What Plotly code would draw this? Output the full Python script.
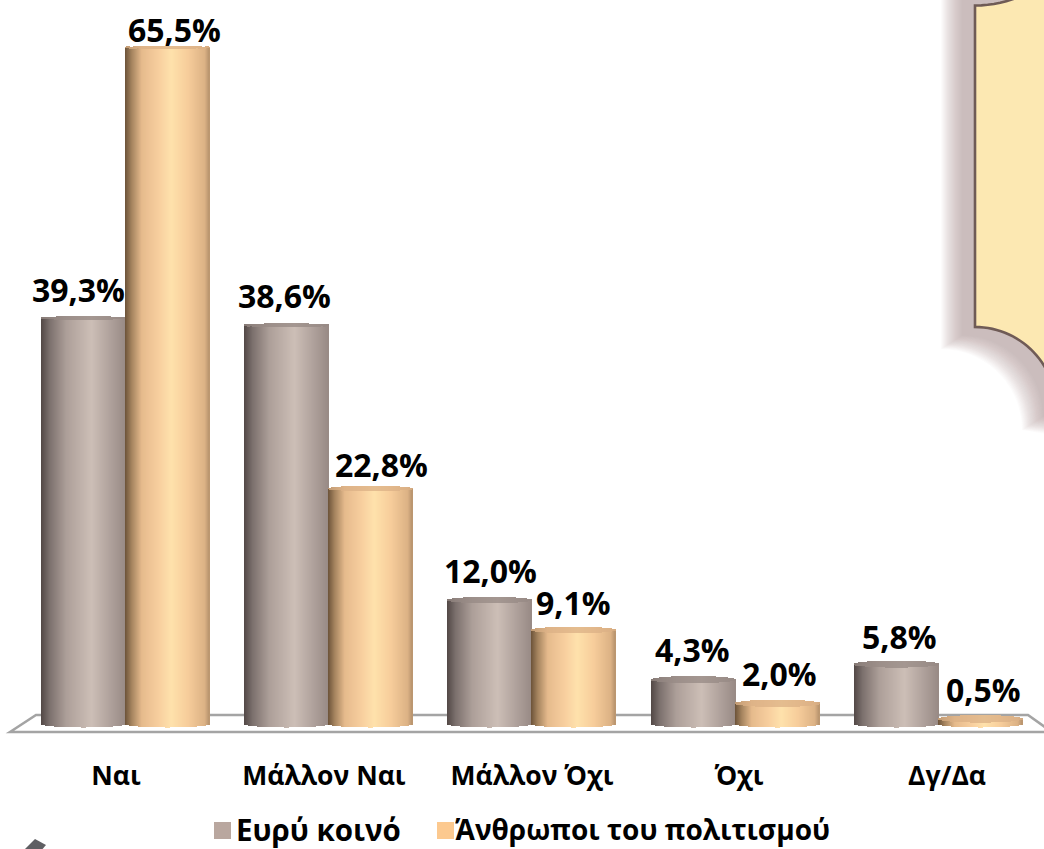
import numpy as np
import plotly.graph_objects as go

categories = ["Ναι", "Μάλλον Ναι", "Μάλλον Όχι", "Όχι", "Δγ/Δα"]
public_name = "Ευρύ κοινό"
culture_name = "Άνθρωποι του πολιτισμού"
public_values = [39.3, 38.6, 12.0, 4.3, 5.8]
culture_values = [65.5, 22.8, 9.1, 2.0, 0.5]

W, H = 1044, 849
PLOT_BOTTOM = 757
BASE_PX = 724
PX_PER_UNIT = 10.33
GROUP0_PX = 125.5
PITCH_PX = 203.25
BAR_PX = 84
TICK_PX = [116, 324, 532, 739, 947]

PUBLIC_COLOR = "#b9a79f"
CULTURE_COLOR = "#fcc98f"
PUBLIC_STOPS = [(0, "#524846"), (.1, "#7b706d"), (.3, "#ad9f99"), (.6, "#cdbfb7"), (.8, "#b3a59f"), (1, "#998b86")]
CULTURE_STOPS = [(0, "#6c5339"), (.08, "#a5845f"), (.2, "#e6bb8d"), (.4, "#f8cf9f"), (.55, "#ffe2ac"), (.75, "#f7cd9b"), (.95, "#dcb285"), (1, "#b8946e")]
PUBLIC_CAP = "#978a85"
CULTURE_CAP = "#dcb186"


def rgb(h):
    return np.array([int(h[i:i + 2], 16) for i in (1, 3, 5)], float)


def shade(stops, t):
    ts = [s[0] for s in stops]
    cs = np.array([rgb(s[1]) for s in stops])
    v = [np.interp(t, ts, cs[:, i]) for i in range(3)]
    return "rgb(%d,%d,%d)" % tuple(v)


def blend(c, hexcol, a):
    parts = [int(p) for p in c[4:-1].split(",")]
    out = (1 - a) * np.array(parts) + a * rgb(hexcol)
    return "rgb(%d,%d,%d)" % tuple(out)


px_to_x = lambda px: (px - GROUP0_PX) / PITCH_PX
unit = 1 / PX_PER_UNIT


def strips(values, side, stops, cap_hex, name):
    xs, base, height, colors, cbase, cheight, ccolors = [], [], [], [], [], [], []
    for g, v in enumerate(values):
        left = GROUP0_PX + g * PITCH_PX + (-BAR_PX if side == 0 else 0)
        for k in range(BAR_PX):
            t = (k + .5) / BAR_PX
            f = np.sqrt(max(0, 1 - (2 * t - 1) ** 2))
            e = max(1.5, 3.8 - v * 0.045) * unit * f
            bottom = -3.5 * unit * f
            xs.append(px_to_x(left + k + .5))
            base.append(bottom)
            height.append(v - e - bottom)
            col = shade(stops, t)
            colors.append(col)
            cbase.append(v - e)
            cheight.append(2 * e)
            ccolors.append(blend(shade(stops, t), cap_hex, .75))
    width = 1.5 / PITCH_PX
    common = dict(x=xs, width=width, showlegend=False, hoverinfo="skip", cliponaxis=False)
    return [
        go.Bar(y=height, base=base, marker=dict(color=colors, line_width=0), name=name, **common),
        go.Bar(y=cheight, base=cbase, marker=dict(color=ccolors, line_width=0), name=name + " top", **common),
    ]


fig = go.Figure()
for tr in strips(public_values, 0, PUBLIC_STOPS, PUBLIC_CAP, public_name):
    fig.add_trace(tr)
for tr in strips(culture_values, 1, CULTURE_STOPS, CULTURE_CAP, culture_name):
    fig.add_trace(tr)

# legend entries: text from the legends, swatches drawn as shapes at their exact spots
for nm, lg in ((public_name, "legend"), (culture_name, "legend2")):
    fig.add_trace(go.Scatter(x=[None], y=[None], mode="markers", name=nm, legend=lg,
                             marker=dict(symbol="square", size=1, color="rgba(0,0,0,0)")))

# value labels (pixel nudges beside the data)
LABEL_FONT = dict(family="Open Sans", size=32, color="#000000", weight=700)
public_nudge = [(-5, 29), (-2, 30), (0, 30), (-1, 30), (3, 28)]
culture_nudge = [(7, 18), (11, 24), (-1, 28), (2, 30), (3, 29)]
annotations = []
for vals, nudge, off in ((public_values, public_nudge, -.5), (culture_values, culture_nudge, .5)):
    for g, v in enumerate(vals):
        annotations.append(dict(
            x=g + off * BAR_PX / PITCH_PX, y=v, xref="x", yref="y", showarrow=False,
            text=f"{v:.1f}%".replace(".", ","), font=LABEL_FONT,
            xshift=nudge[g][0], yshift=nudge[g][1], xanchor="center", yanchor="middle"))


def px_pt(x, y):
    return x / W, (PLOT_BOTTOM - y) / PLOT_BOTTOM


def path(points, close=True):
    parts = []
    for i, (x, y) in enumerate(points):
        a, b = px_pt(x, y)
        parts.append(("M" if i == 0 else "L") + f"{a:.5f},{b:.5f}")
    return " ".join(parts) + (" Z" if close else "")


shapes = []
# floor outline
FLOOR = [(10, 732), (36, 715), (1028, 715), (1052, 732)]
shapes.append(dict(type="path", xref="paper", yref="paper", path=path(FLOOR),
                   line=dict(color="#a4a4a4", width=2.6), fillcolor="rgba(255,255,255,0)", layer="below"))

# callout plaque
R_BOT, R_TOP = 81, 117
LEFT, TOP, BOT = 975, 5.5, 327
a1 = np.linspace(0, np.pi / 2, 30)
top_arc = [(LEFT + R_TOP * np.sin(a), TOP - R_TOP * (1 - np.cos(a))) for a in a1]
top_arc = [p for p in top_arc if p[1] > -20]
bot_arc = [(LEFT + R_BOT * np.sin(a), BOT + R_BOT * (1 - np.cos(a))) for a in a1]
plaque = top_arc[::-1] + bot_arc + [(1100, BOT + R_BOT), (1100, -20)]
for s in range(34, 12, -1):
    shadow = [(LEFT - s, -60)] + [(x - s, y + s * .65) for x, y in bot_arc] + [(1100, BOT + R_BOT + s), (1100, -60)]
    shapes.append(dict(type="path", xref="paper", yref="paper", path=path(shadow),
                       line_width=0, fillcolor="#b49c94", opacity=.04, layer="below"))
shapes.append(dict(type="path", xref="paper", yref="paper", path=path(plaque),
                   line=dict(color="#6f5b56", width=2.6), fillcolor="#fce8b2", layer="below"))

# legend swatches
for left, c in ((214, PUBLIC_COLOR), (437, CULTURE_COLOR)):
    shapes.append(dict(type="path", xref="paper", yref="paper",
                       path=path([(left, 822), (left + 17, 822), (left + 17, 839), (left, 839)]),
                       line_width=0, fillcolor=c, layer="below"))

# arrow fragment, bottom-left corner
ARROW = [(22, 852), (35, 839), (46, 845), (40, 852)]
shapes.append(dict(type="path", xref="paper", yref="paper", path=path(ARROW),
                   line_width=0, fillcolor="#5f5f63", layer="below"))

LEGEND_COMMON = dict(orientation="h", xanchor="left", y=-(804 - PLOT_BOTTOM) / PLOT_BOTTOM, yanchor="top",
                     bgcolor="rgba(0,0,0,0)", itemclick=False, itemdoubleclick=False)
fig.update_layout(
    width=W, height=H, autosize=False,
    margin=dict(l=0, r=0, t=0, b=H - PLOT_BOTTOM, autoexpand=False),
    paper_bgcolor="#ffffff", plot_bgcolor="rgba(0,0,0,0)",
    barmode="overlay", bargap=0,
    annotations=annotations, shapes=shapes,
    legend=dict(x=196 / W, font=dict(family="Open Sans", size=29.5, color="#000000", weight=700), **LEGEND_COMMON),
    legend2=dict(x=415 / W, font=dict(family="Open Sans", size=28, color="#000000", weight=700), **LEGEND_COMMON),
    xaxis=dict(range=[px_to_x(0), px_to_x(W)], tickmode="array", tickvals=[px_to_x(p) for p in TICK_PX],
               ticktext=categories, ticks="", showgrid=False, showline=False, zeroline=False,
               tickfont=dict(family="Open Sans", size=26.5, color="#000000", weight=700),
               ticklabelstandoff=0, fixedrange=True),
    yaxis=dict(range=[(BASE_PX - PLOT_BOTTOM) * unit, BASE_PX * unit], visible=False, fixedrange=True),
)
fig.write_html("out.html", config={"displayModeBar": False},
               post_script="document.body.style.margin='0';document.documentElement.style.overflow='hidden';")
